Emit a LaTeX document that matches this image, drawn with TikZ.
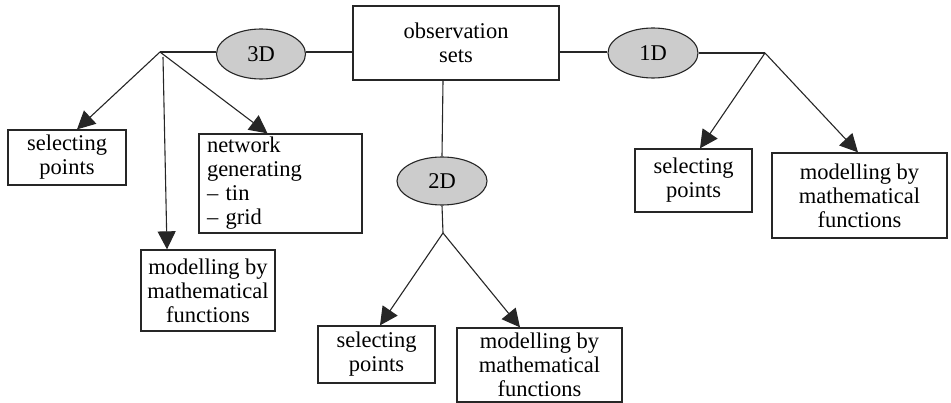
\documentclass[tikz,border=0pt]{standalone}
\usepackage{fontspec}
\setmainfont{Liberation Serif}
\usetikzlibrary{arrows.meta,shapes.geometric}
\tikzset{
  box/.style={draw=black!85, line width=1.3pt, inner sep=0pt, align=center, font=\fontsize{22.5}{24}\selectfont},
  oval/.style={draw=black!85, line width=1.1pt, ellipse, fill=black!20, inner sep=0pt, font=\fontsize{22.5}{24}\selectfont},
  conn/.style={draw=black!85, line width=1.1pt},
  arr/.style={conn, -{Triangle[length=18pt,width=18pt]}}
}
\begin{document}
\begin{tikzpicture}[x=1pt,y=-1pt]
\useasboundingbox (0,0) rectangle (951,403);
\node[box, minimum width=206pt, minimum height=74pt] (obs) at (456,43) {observation\\sets};
\node[oval, minimum width=89pt, minimum height=50pt] (e3) at (261,54) {3D};
\node[oval, minimum width=90pt, minimum height=48pt] (e2) at (442,181) {2D};
\node[oval, minimum width=90pt, minimum height=50pt] (e1) at (653,53) {1D};
\node[box, minimum width=118pt, minimum height=55pt] (sp3) at (67,157.5) {selecting\\points};
\node[box, minimum width=163pt, minimum height=99pt, align=left, text width=147pt] (nw) at (280.5,183.5) {network\\generating\\– tin\\– grid};
\node[box, minimum width=134pt, minimum height=81pt] (mod3) at (208,290.5) {modelling by\\mathematical\\functions};
\node[box, minimum width=117pt, minimum height=57pt] (sp2) at (376.5,354.5) {selecting\\points};
\node[box, minimum width=165pt, minimum height=74pt] (mod2) at (539.5,365) {modelling by\\mathematical\\functions};
\node[box, minimum width=117pt, minimum height=63pt] (sp1) at (693.5,180.5) {selecting\\points};
\node[box, minimum width=175pt, minimum height=85pt] (mod1) at (859.5,195.5) {modelling by\\mathematical\\functions};
\coordinate (j3) at (160,52);
\coordinate (j3b) at (163,57);
\coordinate (j2) at (443,233);
\coordinate (j1) at (765,53);
\draw[conn] (e3.east |- 0,52) -- (obs.west |- 0,52);
\draw[conn] (e3.west |- 0,52) -- (j3);
\draw[arr] (j3) -- ([xshift=10pt]sp3.north);
\draw[arr] (j3) -- ([xshift=-13pt]nw.north);
\draw[arr] (j3b) -- ([xshift=-41pt]mod3.north);
\draw[conn] ([xshift=-13pt]obs.south) -- (e2.north);
\draw[conn] (e2.south) -- (j2);
\draw[arr] (j2) -- ([xshift=3.5pt]sp2.north);
\draw[arr] (j2) -- ([xshift=-19.5pt]mod2.north);
\draw[conn] (obs.east |- 0,52) -- (e1.west |- 0,52);
\draw[conn] (e1.east |- 0,53) -- (j1);
\draw[arr] (j1) -- ([xshift=6.5pt]sp1.north);
\draw[arr] (j1) -- ([xshift=-1.5pt]mod1.north);
\end{tikzpicture}
\end{document}
